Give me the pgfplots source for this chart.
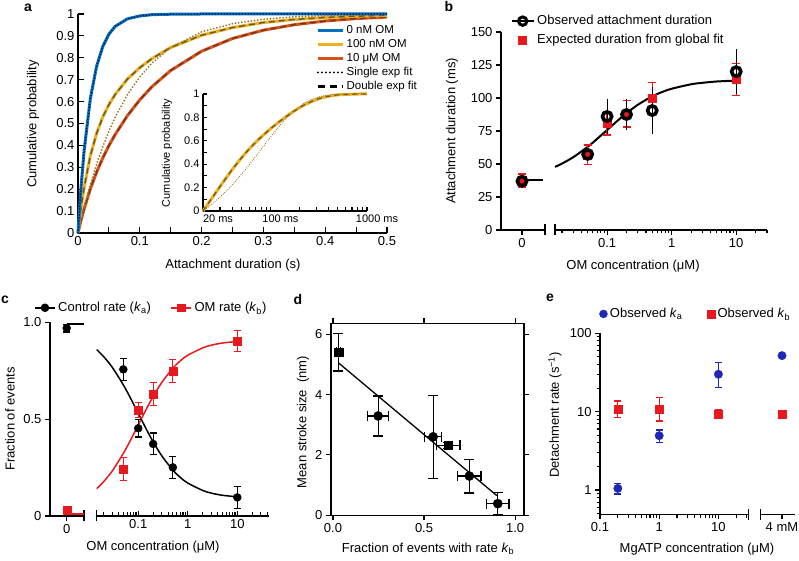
\documentclass[border=0pt]{standalone}
\usepackage{fontspec}
\setmainfont{Liberation Sans}
\usepackage{pgfplots}
\pgfplotsset{compat=1.18}
\definecolor{cblue}{RGB}{0,114,189}
\definecolor{cyel}{RGB}{237,177,32}
\definecolor{cred}{RGB}{217,83,25}
\definecolor{fityel}{RGB}{110,90,40}
\definecolor{dotyel}{RGB}{150,115,30}
\definecolor{fitred}{RGB}{120,55,30}
\definecolor{pred}{RGB}{232,25,30}
\definecolor{pblue}{RGB}{30,40,180}
\pgfplotsset{
 every axis/.append style={scale only axis, anchor=south west, font=\fontsize{13}{15}\selectfont,
   axis line style={line width=1.3pt,-}, tick style={black, line width=1.1pt},
   major tick length=5pt, minor tick length=3.5pt,
   /pgf/number format/assume math mode=true, clip=false},
 every tick label/.append style={font=\fontsize{13}{15}\selectfont},
 barstyle/.style={extra x tick style={major tick length=11pt, tick align=center, tick style={line width=1.3pt}}, extra x tick labels={}},
 sqlegend/.style={legend image code/.code={\draw[##1] plot coordinates {(11pt,0pt)};}},
}
\begin{document}
\begin{tikzpicture}[x=1pt,y=1pt]
\useasboundingbox (0,0) rectangle (799,561);

% ---------------- panel a ----------------
\begin{axis}[at={(78pt,328pt)}, width=309pt, height=219pt,
  xmin=0, xmax=0.5, ymin=0, ymax=1,
  axis x line*=bottom, axis y line*=left,
  xtick={0,0.1,0.2,0.3,0.4,0.5}, xticklabels={0,0.1,0.2,0.3,0.4,0.5}, minor x tick num=1,
  ytick={0,0.1,0.2,0.3,0.4,0.5,0.6,0.7,0.8,0.9,1},
  yticklabels={0,0.1,0.2,0.3,0.4,0.5,0.6,0.7,0.8,0.9,1},
  tick align=inside, major tick length=6pt, minor tick length=6pt,
  legend style={at={(axis description cs:0.77,0.953)}, anchor=north west, draw=none, fill=none,
    font=\fontsize{11.5}{13}\selectfont, row sep=2pt, inner sep=0pt,
    nodes={inner ysep=0.5pt, inner xsep=2pt, text height=8.5pt, text depth=2.5pt}},
  legend cell align=left,
  legend image code/.code={\draw[#1] (0pt,0pt) -- (25pt,0pt);}]
\addlegendimage{cblue, line width=3.5pt}\addlegendentry{0 nM OM}
\addlegendimage{cyel, line width=3.5pt}\addlegendentry{100 nM OM}
\addlegendimage{cred, line width=3.5pt}\addlegendentry{10 μM OM}
\addlegendimage{black, line width=2.2pt, dash pattern=on 0pt off 4pt, line cap=round}\addlegendentry{Single exp fit}
\addlegendimage{black, line width=2.5pt, dash pattern=on 7pt off 5pt}\addlegendentry{Double exp fit}
% red 10 uM
\addplot[forget plot, cred, line width=3pt] coordinates {(0,0) (0.005,0.059) (0.01,0.111) (0.02,0.201) (0.03,0.277) (0.04,0.342) (0.05,0.399) (0.06,0.449) (0.08,0.536) (0.1,0.608) (0.12,0.669) (0.15,0.742) (0.2,0.83) (0.25,0.888) (0.3,0.926) (0.35,0.951) (0.4,0.968) (0.45,0.979) (0.5,0.986)};
\addplot[forget plot, fitred, line width=1.5pt, dash pattern=on 6pt off 4pt] coordinates {(0,0) (0.005,0.059) (0.01,0.111) (0.02,0.201) (0.03,0.277) (0.04,0.342) (0.05,0.399) (0.06,0.449) (0.08,0.536) (0.1,0.608) (0.12,0.669) (0.15,0.742) (0.2,0.83) (0.25,0.888) (0.3,0.926) (0.35,0.951) (0.4,0.968) (0.45,0.979) (0.5,0.986)};
% yellow 100 nM
\addplot[forget plot, cyel, line width=3pt] coordinates {(0,0) (0.005,0.115) (0.01,0.209) (0.02,0.353) (0.03,0.454) (0.04,0.529) (0.05,0.586) (0.06,0.632) (0.08,0.703) (0.1,0.755) (0.12,0.797) (0.15,0.847) (0.2,0.903) (0.25,0.938) (0.3,0.961) (0.35,0.975) (0.4,0.984) (0.45,0.990) (0.5,0.994)};
\addplot[forget plot, fityel, line width=1.5pt, dash pattern=on 6pt off 4pt] coordinates {(0,0) (0.005,0.115) (0.01,0.209) (0.02,0.353) (0.03,0.454) (0.04,0.529) (0.05,0.586) (0.06,0.632) (0.08,0.703) (0.1,0.755) (0.12,0.797) (0.15,0.847) (0.2,0.903) (0.25,0.938) (0.3,0.961) (0.35,0.975) (0.4,0.984) (0.45,0.990) (0.5,0.994)};
\addplot[forget plot, dotyel, line width=2pt, dash pattern=on 0pt off 3.2pt, line cap=round] coordinates {(0,0) (0.005,0.061) (0.01,0.118) (0.02,0.221) (0.03,0.313) (0.04,0.393) (0.05,0.465) (0.06,0.528) (0.08,0.632) (0.1,0.713) (0.12,0.777) (0.15,0.847) (0.2,0.918) (0.25,0.956) (0.3,0.976) (0.35,0.987) (0.4,0.993) (0.45,0.996) (0.5,0.998)};
% blue 0 nM
\addplot[forget plot, cblue, line width=3pt] coordinates {(0,0) (0.005,0.212) (0.01,0.379) (0.02,0.614) (0.03,0.760) (0.04,0.851) (0.05,0.908) (0.06,0.943) (0.08,0.978) (0.1,0.991) (0.12,0.997) (0.15,0.999) (0.2,1) (0.3,1) (0.4,1) (0.5,1)};
\addplot[forget plot, black!75!blue, line width=1.6pt, dash pattern=on 0pt off 3pt, line cap=round] coordinates {(0,0) (0.005,0.212) (0.01,0.379) (0.02,0.614) (0.03,0.760) (0.04,0.851) (0.05,0.908) (0.06,0.943) (0.08,0.978) (0.1,0.991) (0.12,0.997) (0.15,0.999) (0.2,1) (0.3,1) (0.4,1) (0.5,1)};
\end{axis}

% inset
\begin{axis}[at={(203pt,350pt)}, width=164pt, height=117pt,
  xmode=log, xmin=20, xmax=1000, ymin=0, ymax=1,
  axis x line*=bottom, axis y line*=left,
  xtick={20,100,1000}, xticklabels={\hspace*{10pt}20 ms,100 ms,1000 ms}, xticklabel style={xshift=10pt},
  minor xtick={30,40,50,60,70,80,90,200,300,400,500,600,700,800,900},
  ytick={0,0.2,0.4,0.6,0.8,1}, yticklabels={0,0.2,0.4,0.6,0.8,1},
  minor ytick={0.1,0.3,0.5,0.7,0.9},
  tick align=inside, major tick length=4pt, minor tick length=4pt,
  every tick label/.append style={font=\fontsize{11}{13}\selectfont}]
\addplot[cyel, line width=3pt] coordinates {(20,0) (25,0.115) (30,0.209) (40,0.353) (50,0.454) (60,0.529) (70,0.586) (80,0.632) (100,0.703) (120,0.755) (140,0.797) (170,0.847) (220,0.903) (270,0.938) (320,0.961) (370,0.975) (420,0.984) (470,0.990) (520,0.994) (620,0.997) (820,1) (1000,1)};
\addplot[fityel, line width=1.3pt, dash pattern=on 5pt off 4pt] coordinates {(20,0) (25,0.115) (30,0.209) (40,0.353) (50,0.454) (60,0.529) (70,0.586) (80,0.632) (100,0.703) (120,0.755) (140,0.797) (170,0.847) (220,0.903) (270,0.938) (320,0.961) (370,0.975) (420,0.984) (470,0.990) (520,0.994) (620,0.997) (820,1) (1000,1)};
\addplot[dotyel, line width=1.2pt, dash pattern=on 0pt off 2.2pt, line cap=round] coordinates {(20,0) (25,0.061) (30,0.118) (40,0.221) (50,0.313) (60,0.393) (70,0.465) (80,0.528) (100,0.632) (120,0.713) (140,0.777) (170,0.847) (220,0.918) (270,0.956) (320,0.976) (370,0.987) (420,0.993) (470,0.996) (520,0.998) (620,0.999) (820,1) (1000,1)};
\end{axis}

% ---------------- panel b ----------------
\begin{axis}[at={(501pt,331pt)}, width=44pt, height=198pt,
  xmin=-21, xmax=23, ymin=0, ymax=150,
  axis x line*=bottom, axis y line*=left, tick align=outside,
  xtick={0}, xticklabels={0}, ytick={0,25,50,75,100,125,150},
  barstyle, extra x ticks={23}]
\addplot[black, line width=2pt] coordinates {(0,37.5) (21,37.5)};
\addplot[pred, only marks, mark=square*, mark size=4pt,
  error bars/.cd, y dir=both, y explicit, error bar style={line width=1.3pt, pred},
  error mark options={rotate=90, mark size=4pt, line width=1.3pt, pred}]
  coordinates {(0,37.5) +- (0,5)};
\addplot[black, only marks, mark=o, mark size=4.6pt, mark options={line width=3.6pt},
  error bars/.cd, y dir=both, y explicit, error bar style={line width=1pt}, error mark=none]
  coordinates {(0,37) +- (0,5)};
\end{axis}
\begin{axis}[at={(555pt,331pt)}, width=212pt, height=198pt,
  xmode=log, xmin=0.0156, xmax=30, ymin=0, ymax=150,
  axis x line*=bottom, axis y line=none, ytick=\empty, tick align=outside,
  xtick={0.1,1,10}, xticklabels={0.1,1,10},
  minor xtick={0.02,0.03,0.04,0.05,0.06,0.07,0.08,0.09,0.2,0.3,0.4,0.5,0.6,0.7,0.8,0.9,2,3,4,5,6,7,8,9,20,30},
  barstyle, extra x ticks={0.0156},
  legend style={at={(axis description cs:-0.21,1.09)}, anchor=north west, draw=none, fill=none,
    row sep=6pt, inner sep=0pt, nodes={inner ysep=0.5pt, inner xsep=2.5pt, text height=9.5pt, text depth=3pt}},
  legend cell align=left,
  legend image code/.code={\draw[mark repeat=2,mark phase=2,#1] plot coordinates {(0pt,0pt)(11pt,0pt)(22pt,0pt)};}]
\addlegendimage{black, line width=2pt, mark=o, mark size=4.2pt, mark options={line width=3pt, fill=white}}
\addlegendentry{Observed attachment duration}
\addlegendimage{pred, mark=square*, mark size=4pt, sqlegend}
\addlegendentry{Expected duration from global fit}
\addplot[forget plot, black, line width=2pt, smooth] coordinates {(0.0156,47.8) (0.02,50.3) (0.03,55.2) (0.05,63.0) (0.07,69.0) (0.1,75.75) (0.15,83.4) (0.2,88.5) (0.3,94.9) (0.5,101.25) (0.7,104.4) (1,107.0) (2,110.4) (3,111.5) (5,112.5) (10,113.2)};
\addplot[forget plot, pred, only marks, mark=square*, mark size=4pt,
  error bars/.cd, y dir=both, y explicit, error bar style={line width=1.3pt, pred},
  error mark options={rotate=90, mark size=4pt, line width=1.3pt, pred}]
  coordinates {(0.05,57) +- (0,7.5) (0.1,81) +- (0,9) (0.2,88) +- (0,10) (0.5,100) +- (0,11.5) (10,114) +- (0,12)};
\addplot[forget plot, black, only marks, mark=o, mark size=4.6pt, mark options={line width=3.6pt},
  error bars/.cd, y dir=both, y explicit, error bar style={line width=1pt}, error mark=none]
  coordinates {(0.05,57.3) +- (0,4) (0.1,86) +- (0,13.5) (0.2,87.5) +- (0,12) (0.5,90.5) +- (0,17.5) (10,120) +- (0,17)};
\end{axis}

% ---------------- panel c ----------------
\begin{axis}[at={(50pt,45pt)}, width=34pt, height=193.7pt,
  xmin=-16.7, xmax=17.3, ymin=0, ymax=1,
  axis x line*=bottom, axis y line*=left, tick align=outside,
  xtick={0}, xticklabels={0}, ytick={0,0.5,1}, yticklabels={0,0.5,1.0},
  barstyle, extra x ticks={17.3},
  legend columns=2,
  legend style={at={(axis description cs:-0.47,1.075)}, anchor=west, draw=none, fill=none,
    inner sep=0pt, nodes={inner ysep=0.5pt, inner xsep=2.5pt},
    /tikz/every even column/.append style={column sep=17pt}},
  legend image code/.code={\draw[mark repeat=2,mark phase=2,#1] plot coordinates {(0pt,0pt)(10pt,0pt)(20pt,0pt)};}]
\addlegendimage{black, line width=1.5pt, mark=*, mark size=3.5pt}
\addlegendentry{Control rate (\textit{k}\textsubscript{a})}
\addlegendimage{pred, line width=1.5pt, mark=square*, mark size=3.5pt}
\addlegendentry{OM rate (\textit{k}\textsubscript{b})}
\addplot[forget plot, black, line width=1.5pt] coordinates {(0,0.99) (17.3,0.99)};
\addplot[forget plot, pred, line width=1.5pt] coordinates {(0,0.01) (17.3,0.01)};
\addplot[forget plot, black, only marks, mark=*, mark size=4pt,
  error bars/.cd, y dir=both, y explicit, error bar style={line width=1.2pt},
  error mark options={rotate=90, mark size=3.5pt, line width=1.2pt}]
  coordinates {(0,0.97) +- (0,0.02)};
\addplot[forget plot, pred, only marks, mark=square*, mark size=4pt,
  error bars/.cd, y dir=both, y explicit, error bar style={line width=1.2pt, pred},
  error mark options={rotate=90, mark size=3.5pt, line width=1.2pt, pred}]
  coordinates {(0,0.03) +- (0,0.02)};
\end{axis}
\begin{axis}[at={(96.7pt,45pt)}, width=172.3pt, height=193.7pt,
  xmode=log, xmin=0.0145, xmax=43.7, ymin=0, ymax=1,
  axis x line*=bottom, axis y line=none, ytick=\empty, tick align=inside,
  xtick={0.1,1,10}, xticklabels={0.1,1,10},
  minor xtick={0.02,0.03,0.04,0.05,0.06,0.07,0.08,0.09,0.2,0.3,0.4,0.5,0.6,0.7,0.8,0.9,2,3,4,5,6,7,8,9,20,30,40},
  barstyle, extra x ticks={0.0145}]
\addplot[black, line width=1.5pt, smooth] coordinates {(0.0145,0.859) (0.02,0.823) (0.03,0.767) (0.05,0.677) (0.07,0.608) (0.1,0.530) (0.15,0.442) (0.2,0.383) (0.3,0.310) (0.5,0.237) (0.7,0.200) (1,0.170) (2,0.132) (3,0.118) (5,0.107) (10,0.099)};
\addplot[pred, line width=1.5pt, smooth] coordinates {(0.0145,0.141) (0.02,0.177) (0.03,0.233) (0.05,0.323) (0.07,0.392) (0.1,0.470) (0.15,0.558) (0.2,0.617) (0.3,0.690) (0.5,0.763) (0.7,0.800) (1,0.830) (2,0.868) (3,0.882) (5,0.893) (10,0.901)};
\addplot[black, only marks, mark=*, mark size=4pt,
  error bars/.cd, y dir=both, y explicit, error bar style={line width=1.2pt},
  error mark options={rotate=90, mark size=3.5pt, line width=1.2pt}]
  coordinates {(0.05,0.757) +- (0,0.058) (0.1,0.453) +- (0,0.045) (0.2,0.372) +- (0,0.056) (0.5,0.251) +- (0,0.057) (10,0.096) +- (0,0.057)};
\addplot[pred, only marks, mark=square*, mark size=4pt,
  error bars/.cd, y dir=both, y explicit, error bar style={line width=1.2pt, pred},
  error mark options={rotate=90, mark size=3.5pt, line width=1.2pt, pred}]
  coordinates {(0.05,0.243) +- (0,0.06) (0.1,0.547) +- (0,0.04) (0.2,0.63) +- (0,0.06) (0.5,0.749) +- (0,0.06) (10,0.904) +- (0,0.055)};
\end{axis}

% ---------------- panel d ----------------
\begin{axis}[at={(331pt,45.7pt)}, width=193pt, height=192pt,
  xmin=-0.011, xmax=1.049, ymin=0, ymax=6.36,
  tick align=outside, xtick={0,0.5,1}, xticklabels={0.0,0.5,1.0}, ytick={0,2,4,6}]
\addplot[black, line width=1.3pt] coordinates {(0.03,5.05) (0.9,0.65)};
\addplot[black, only marks, mark=square*, mark size=4.3pt,
  error bars/.cd, x dir=both, x explicit, y dir=both, y explicit, error bar style={line width=1.2pt},
  error mark options={rotate=90, mark size=5pt, line width=1.2pt}]
  coordinates {(0.03,5.40) +- (0.01,0.62) (0.633,2.32) +- (0.064,0.1)};
\addplot[black, only marks, mark=*, mark size=4.6pt,
  error bars/.cd, x dir=both, x explicit, y dir=both, y explicit, error bar style={line width=1.2pt},
  error mark options={rotate=90, mark size=5pt, line width=1.2pt}]
  coordinates {(0.248,3.29) +- (0.057,0.66) (0.550,2.60) +- (0.046,1.38) (0.749,1.30) +- (0.064,0.56) (0.905,0.386) +- (0.062,0.37)};
\end{axis}

% ---------------- panel e ----------------
\begin{axis}[at={(600pt,46.7pt)}, width=148.3pt, height=181pt,
  xmode=log, ymode=log, xmin=0.1, xmax=32, ymin=0.49, ymax=100,
  axis x line*=bottom, axis y line*=left, tick align=outside,
  xtick={0.1,1,10}, xticklabels={0.1,1,10},
  minor xtick={0.2,0.3,0.4,0.5,0.6,0.7,0.8,0.9,2,3,4,5,6,7,8,9,20,30},
  ytick={1,10,100}, yticklabels={1,10,100},
  minor ytick={0.5,0.6,0.7,0.8,0.9,2,3,4,5,6,7,8,9,20,30,40,50,60,70,80,90},
  barstyle, extra x ticks={32},
  legend columns=2,
  legend style={at={(axis description cs:-0.005,1.107)}, anchor=west, draw=none, fill=none,
    inner sep=0pt, nodes={inner ysep=0.5pt, inner xsep=2.5pt},
    /tikz/every even column/.append style={column sep=22pt}},
  legend image code/.code={\draw[#1] plot coordinates {(4.5pt,0pt)};}]
\addlegendimage{pblue, mark=*, mark size=4pt}
\addlegendentry{Observed \textit{k}\textsubscript{a}}
\addlegendimage{pred, mark=square*, mark size=4pt}
\addlegendentry{Observed \textit{k}\textsubscript{b}}
\addplot[forget plot, pblue, only marks, mark=*, mark size=4.2pt,
  error bars/.cd, y dir=both, y explicit, error bar style={line width=1.3pt, pblue},
  error mark options={rotate=90, mark size=3.5pt, line width=1.3pt, pblue}]
  coordinates {(0.2,1.05) += (0,0.17) -= (0,0.16) (1,4.94) += (0,0.9) -= (0,0.88) (10,30) += (0,12.2) -= (0,9.7)};
\addplot[forget plot, pred, only marks, mark=square*, mark size=4pt,
  error bars/.cd, y dir=both, y explicit, error bar style={line width=1.3pt, pred},
  error mark options={rotate=90, mark size=3.5pt, line width=1.3pt, pred}]
  coordinates {(0.2,10.7) += (0,3.0) -= (0,2.3) (1,10.7) += (0,4.4) -= (0,3.1) (10,9.3) += (0,1.2) -= (0,1.1)};
\end{axis}
\begin{axis}[at={(760.7pt,46.7pt)}, width=34pt, height=181pt,
  xmin=0, xmax=1, ymode=log, ymin=0.49, ymax=100,
  axis x line*=bottom, axis y line=none, ytick=\empty, tick align=outside,
  xtick={0.626}, xticklabels={4 mM},
  barstyle, extra x ticks={0}]
\addplot[pblue, only marks, mark=*, mark size=4.2pt] coordinates {(0.626,51.9)};
\addplot[pred, only marks, mark=square*, mark size=4pt] coordinates {(0.626,9.4)};
\end{axis}

% ---------------- labels ----------------
\node[font=\fontsize{14}{16}\selectfont\bfseries] at (28,553) {a};
\node[font=\fontsize{14}{16}\selectfont\bfseries] at (449,554) {b};
\node[font=\fontsize{14}{16}\selectfont\bfseries] at (5,261) {c};
\node[font=\fontsize{14}{16}\selectfont\bfseries] at (298,261) {d};
\node[font=\fontsize{14}{16}\selectfont\bfseries] at (550,263) {e};
\begin{scope}[every node/.style={font=\fontsize{13}{15}\selectfont}]
\node at (233,296) {Attachment duration (s)};
\node[rotate=90] at (33,437) {Cumulative probability};
\node[rotate=90, font=\fontsize{11}{13}\selectfont] at (167,408) {Cumulative probability};
\node[rotate=90] at (452,430) {Attachment duration (ms)};
\node at (633,295) {OM concentration (μM)};
\node[rotate=90] at (10,142) {Fraction of events};
\node at (153,14) {OM concentration (μM)};
\node[rotate=90] at (303,139) {Mean stroke size\ \ (nm)};
\node at (428,12) {Fraction of events with rate \textit{k}\textsubscript{b}};
\node[rotate=90] at (555,146) {Detachment rate (s\textsuperscript{−1})};
\node at (697,12) {MgATP concentration (μM)};
\end{scope}
\end{tikzpicture}
\end{document}
